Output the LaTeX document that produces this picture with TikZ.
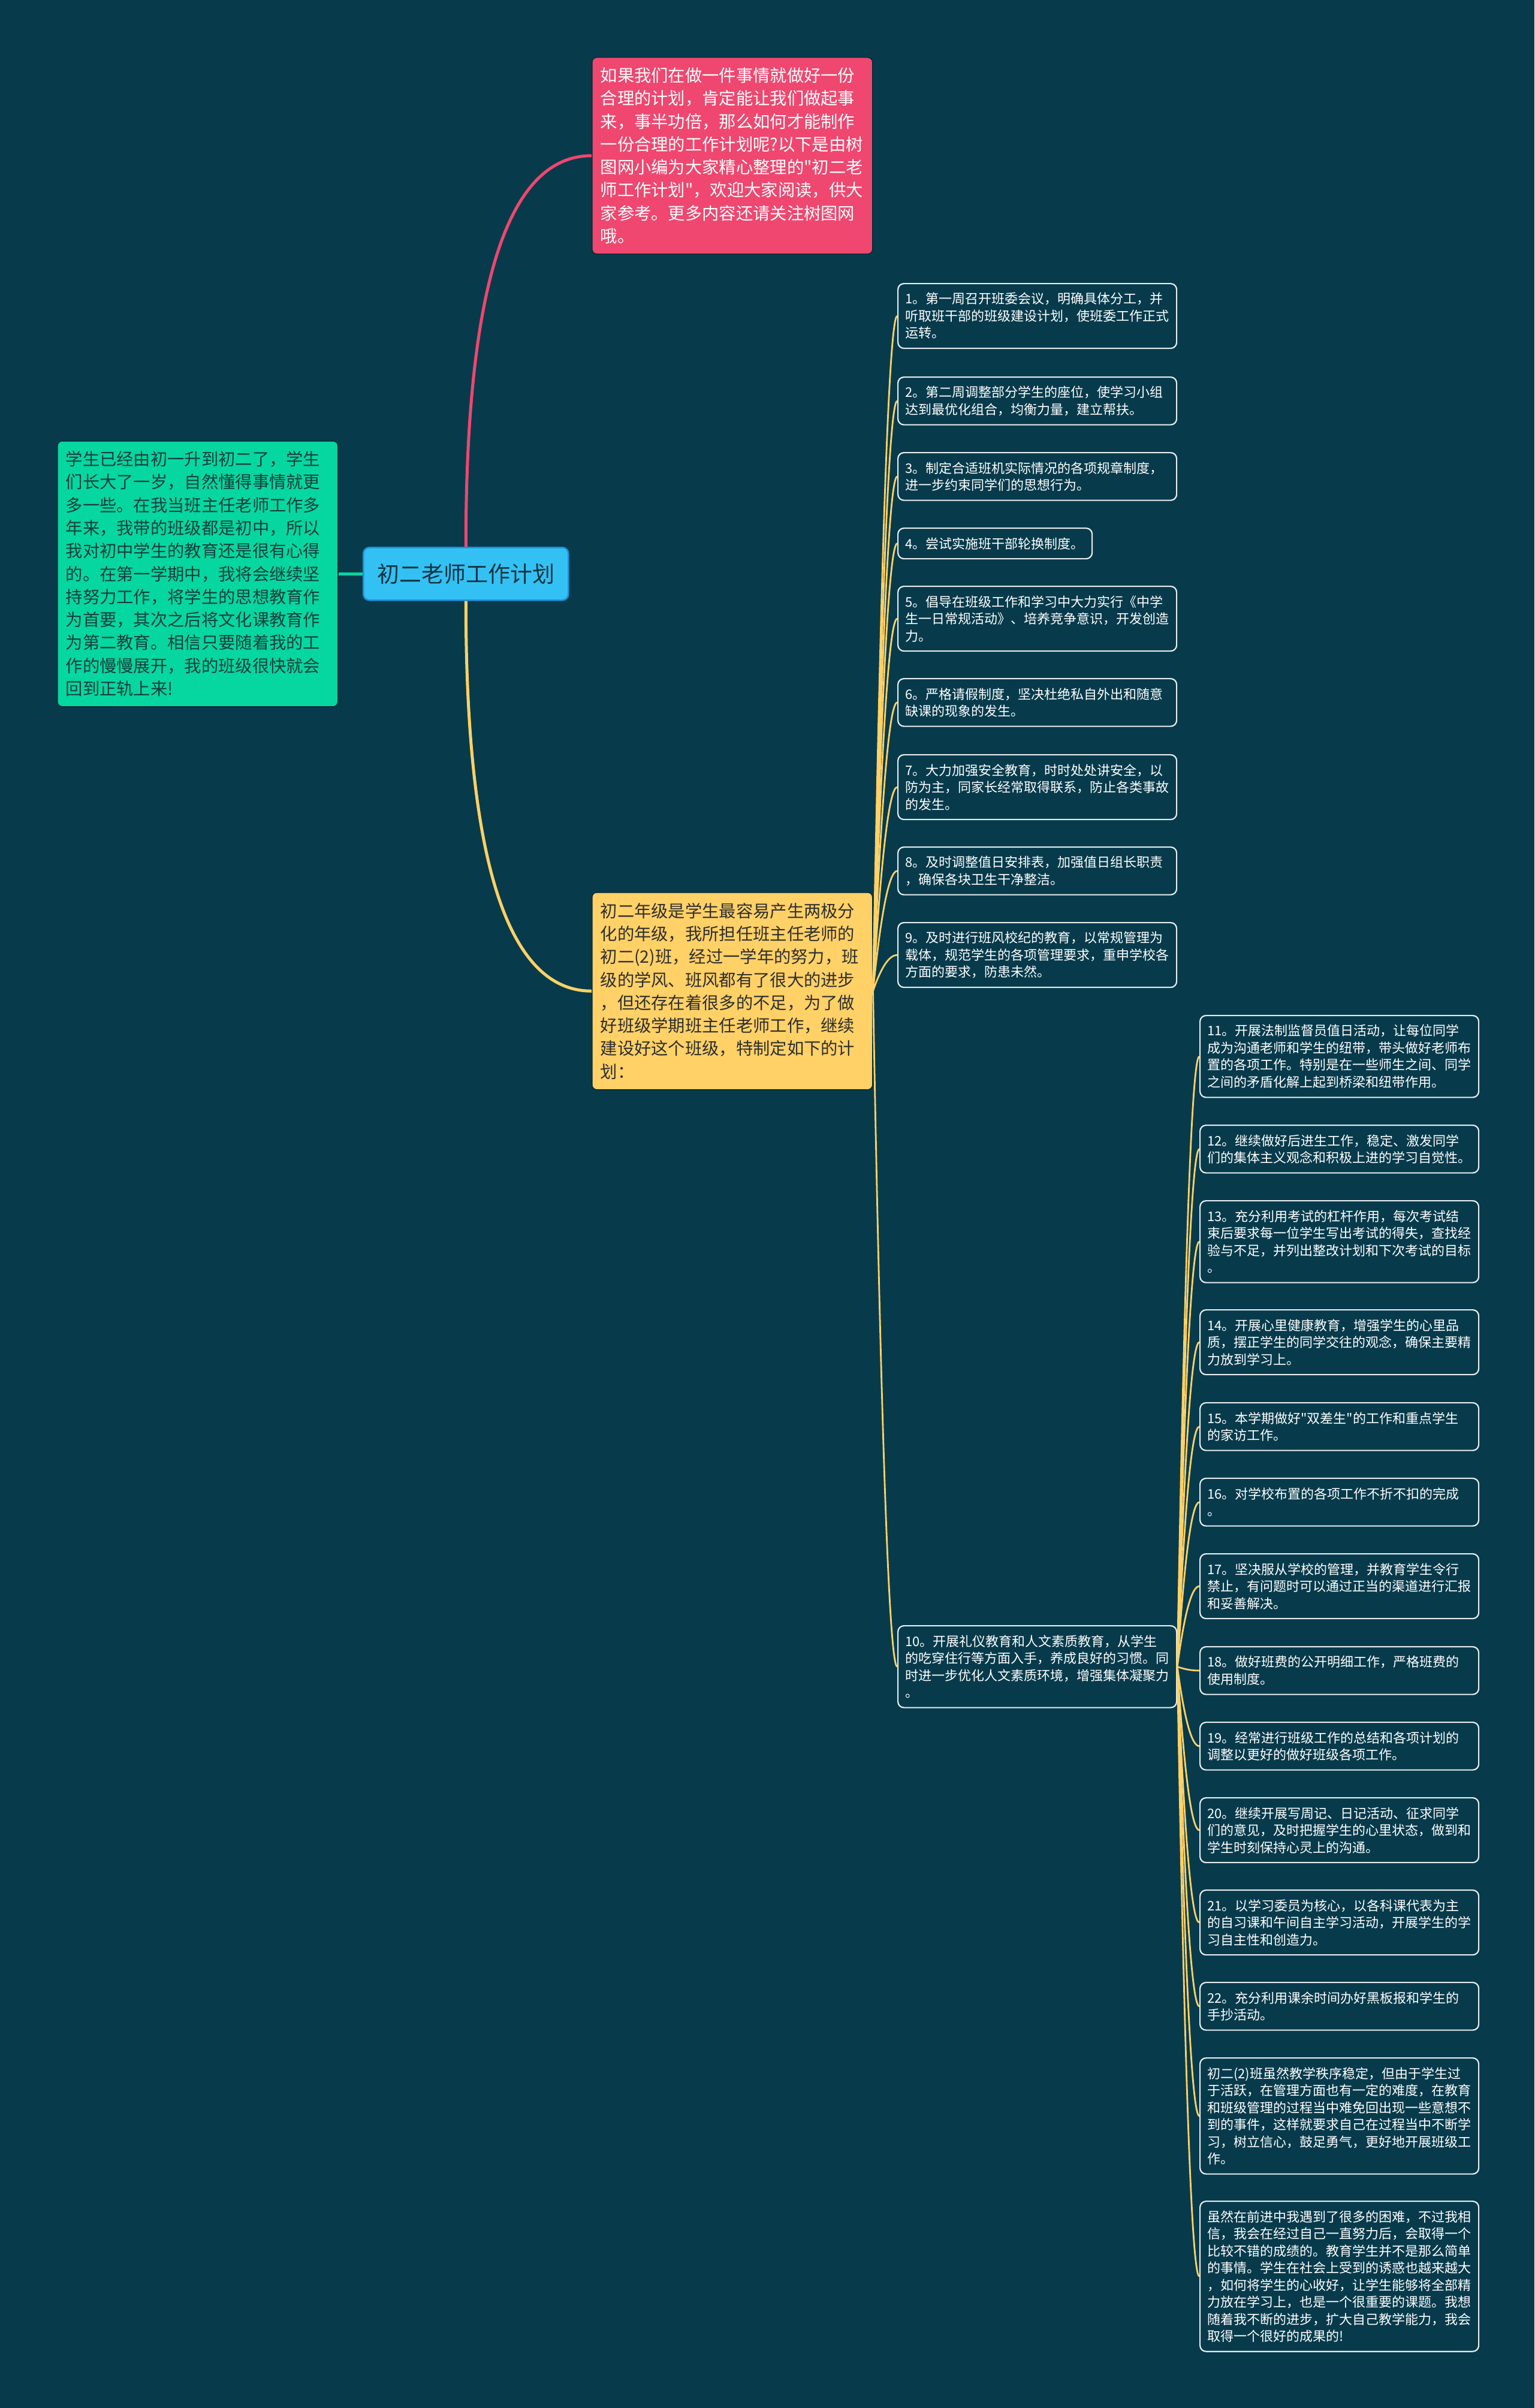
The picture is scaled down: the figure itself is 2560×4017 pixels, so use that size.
\documentclass[tikz,border=0pt]{standalone}
\usepackage{fontspec}
\newfontfamily\cjk{Noto Sans CJK SC}
\usetikzlibrary{calc}
\definecolor{bg}{HTML}{073B4C}
\definecolor{redb}{HTML}{EF476F}
\definecolor{yelb}{HTML}{FFD166}
\definecolor{grnb}{HTML}{06D6A0}
\definecolor{blub}{HTML}{33C1F3}
\definecolor{bluborder}{HTML}{1F8FD8}
\definecolor{leafborder}{HTML}{E6ECEE}
\definecolor{darktext}{HTML}{0E3442}
\definecolor{greentext}{HTML}{123F3A}
\definecolor{yeltext}{HTML}{2E2E2E}
\definecolor{boxshade}{HTML}{052A36}
\newcommand\fanline[3]{\draw[fan] (#1) .. controls ($(#1)!0.667!(#3 |- #2)$) and ($(#2)!0.667!(#3 |- #2)$) .. (#2);}
\tikzset{
  leaf/.style={draw=leafborder, line width=2.2pt, fill=bg, rounded corners=10pt,
    text=white, font=\cjk\fontsize{22pt}{28.5pt}\selectfont, align=left,
    anchor=north west, inner xsep=12pt, inner ysep=0pt, text width=441pt},
  bigbox/.style={rounded corners=8pt, draw=boxshade, line width=1.5pt, align=left,
    anchor=north west, inner xsep=14pt, inner ysep=0pt, text width=440pt,
    font=\cjk\fontsize{28.3pt}{38.3pt}\selectfont},
  ctrnode/.style={fill=blub, draw=bluborder, line width=2.5pt, rounded corners=10pt,
    anchor=north west, minimum width=342pt, minimum height=88pt, inner sep=0pt,
    text=darktext, font=\cjk\fontsize{37pt}{40pt}\selectfont},
  branch/.style={line width=5pt},
  fan/.style={draw=yelb, line width=2.8pt},
}
\begin{document}
\begin{tikzpicture}[x=1pt, y=-1pt]
\useasboundingbox (0,0) rectangle (2560,4017);
\fill[bg] (0,0) rectangle (2560,4017);

% main nodes
\node[ctrnode] (ctr) at (605,912) {初二老师工作计划};

\node[bigbox, fill=redb, text=white, minimum height=328pt] (red) at (987,95) {如果我们在做一件事情就做好一份\\
合理的计划，肯定能让我们做起事\\
来，事半功倍，那么如何才能制作\\
一份合理的工作计划呢?以下是由树\\
图网小编为大家精心整理的"初二老\\
师工作计划"，欢迎大家阅读，供大\\
家参考。更多内容还请关注树图网\\
哦。};

\node[bigbox, fill=grnb, text=greentext, minimum height=443pt] (grn) at (95,735) {学生已经由初一升到初二了，学生\\
们长大了一岁，自然懂得事情就更\\
多一些。在我当班主任老师工作多\\
年来，我带的班级都是初中，所以\\
我对初中学生的教育还是很有心得\\
的。在第一学期中，我将会继续坚\\
持努力工作，将学生的思想教育作\\
为首要，其次之后将文化课教育作\\
为第二教育。相信只要随着我的工\\
作的慢慢展开，我的班级很快就会\\
回到正轨上来!};

\node[bigbox, fill=yelb, text=yeltext, minimum height=329pt] (yel) at (987,1488) {初二年级是学生最容易产生两极分\\
化的年级，我所担任班主任老师的\\
初二(2)班，经过一学年的努力，班\\
级的学风、班风都有了很大的进步\\
，但还存在着很多的不足，为了做\\
好班级学期班主任老师工作，继续\\
建设好这个班级，特制定如下的计\\
划：};

% column 1
\node[leaf, minimum height=108pt] (n1) at (1497,472) {1。第一周召开班委会议，明确具体分工，并\\
听取班干部的班级建设计划，使班委工作正式\\
运转。};
\node[leaf, minimum height=79.5pt] (n2) at (1497,628) {2。第二周调整部分学生的座位，使学习小组\\
达到最优化组合，均衡力量，建立帮扶。};
\node[leaf, minimum height=79.5pt] (n3) at (1497,754) {3。制定合适班机实际情况的各项规章制度，\\
进一步约束同学们的思想行为。};
\node[leaf, minimum height=51pt, text width=300pt] (n4) at (1497,880) {4。尝试实施班干部轮换制度。};
\node[leaf, minimum height=108pt] (n5) at (1497,977) {5。倡导在班级工作和学习中大力实行《中学\\
生一日常规活动》、培养竞争意识，开发创造\\
力。};
\node[leaf, minimum height=79.5pt] (n6) at (1497,1131) {6。严格请假制度，坚决杜绝私自外出和随意\\
缺课的现象的发生。};
\node[leaf, minimum height=108pt] (n7) at (1497,1258) {7。大力加强安全教育，时时处处讲安全，以\\
防为主，同家长经常取得联系，防止各类事故\\
的发生。};
\node[leaf, minimum height=79.5pt] (n8) at (1497,1412) {8。及时调整值日安排表，加强值日组长职责\\
，确保各块卫生干净整洁。};
\node[leaf, minimum height=108pt] (n9) at (1497,1538) {9。及时进行班风校纪的教育，以常规管理为\\
载体，规范学生的各项管理要求，重申学校各\\
方面的要求，防患未然。};
\node[leaf, minimum height=136.5pt] (n10) at (1497,2711) {10。开展礼仪教育和人文素质教育，从学生\\
的吃穿住行等方面入手，养成良好的习惯。同\\
时进一步优化人文素质环境，增强集体凝聚力\\
。};

% column 2
\node[leaf, minimum height=136.5pt] (n11) at (2001,1693) {11。开展法制监督员值日活动，让每位同学\\
成为沟通老师和学生的纽带，带头做好老师布\\
置的各项工作。特别是在一些师生之间、同学\\
之间的矛盾化解上起到桥梁和纽带作用。};
\node[leaf, minimum height=79.5pt] (n12) at (2001,1876) {12。继续做好后进生工作，稳定、激发同学\\
们的集体主义观念和积极上进的学习自觉性。};
\node[leaf, minimum height=136.5pt] (n13) at (2001,2002) {13。充分利用考试的杠杆作用，每次考试结\\
束后要求每一位学生写出考试的得失，查找经\\
验与不足，并列出整改计划和下次考试的目标\\
。};
\node[leaf, minimum height=108pt] (n14) at (2001,2184) {14。开展心里健康教育，增强学生的心里品\\
质，摆正学生的同学交往的观念，确保主要精\\
力放到学习上。};
\node[leaf, minimum height=79.5pt] (n15) at (2001,2339) {15。本学期做好"双差生"的工作和重点学生\\
的家访工作。};
\node[leaf, minimum height=79.5pt] (n16) at (2001,2465) {16。对学校布置的各项工作不折不扣的完成\\
。};
\node[leaf, minimum height=108pt] (n17) at (2001,2591) {17。坚决服从学校的管理，并教育学生令行\\
禁止，有问题时可以通过正当的渠道进行汇报\\
和妥善解决。};
\node[leaf, minimum height=79.5pt] (n18) at (2001,2746) {18。做好班费的公开明细工作，严格班费的\\
使用制度。};
\node[leaf, minimum height=79.5pt] (n19) at (2001,2872) {19。经常进行班级工作的总结和各项计划的\\
调整以更好的做好班级各项工作。};
\node[leaf, minimum height=108pt] (n20) at (2001,2998) {20。继续开展写周记、日记活动、征求同学\\
们的意见，及时把握学生的心里状态，做到和\\
学生时刻保持心灵上的沟通。};
\node[leaf, minimum height=108pt] (n21) at (2001,3152) {21。以学习委员为核心，以各科课代表为主\\
的自习课和午间自主学习活动，开展学生的学\\
习自主性和创造力。};
\node[leaf, minimum height=79.5pt] (n22) at (2001,3306) {22。充分利用课余时间办好黑板报和学生的\\
手抄活动。};
\node[leaf, minimum height=193.5pt] (n23) at (2001,3432) {初二(2)班虽然教学秩序稳定，但由于学生过\\
于活跃，在管理方面也有一定的难度，在教育\\
和班级管理的过程当中难免回出现一些意想不\\
到的事件，这样就要求自己在过程当中不断学\\
习，树立信心，鼓足勇气，更好地开展班级工\\
作。};
\node[leaf, minimum height=250.5pt] (n24) at (2001,3671) {虽然在前进中我遇到了很多的困难，不过我相\\
信，我会在经过自己一直努力后，会取得一个\\
比较不错的成绩的。教育学生并不是那么简单\\
的事情。学生在社会上受到的诱惑也越来越大\\
，如何将学生的心收好，让学生能够将全部精\\
力放在学习上，也是一个很重要的课题。我想\\
随着我不断的进步，扩大自己教学能力，我会\\
取得一个很好的成果的!};

% main branches
\draw[branch, draw=grnb] (ctr.west) -- (grn.east);
\draw[branch, draw=redb] (ctr.north) .. controls ($(ctr.north)!0.667!(ctr.north |- red.west)$) and ($(red.west)!0.667!(ctr.north |- red.west)$) .. (red.west);
\draw[branch, draw=yelb] (ctr.south) .. controls ($(ctr.south)!0.667!(ctr.south |- yel.west)$) and ($(yel.west)!0.667!(ctr.south |- yel.west)$) .. (yel.west);

% fans
\coordinate (mx1) at (1477,0);
\coordinate (mx2) at (1982,0);
\foreach \k in {1,...,10} {\fanline{yel.east}{n\k.west}{mx1}}
\foreach \k in {11,...,24} {\fanline{n10.east}{n\k.west}{mx2}}
\end{tikzpicture}
\end{document}
